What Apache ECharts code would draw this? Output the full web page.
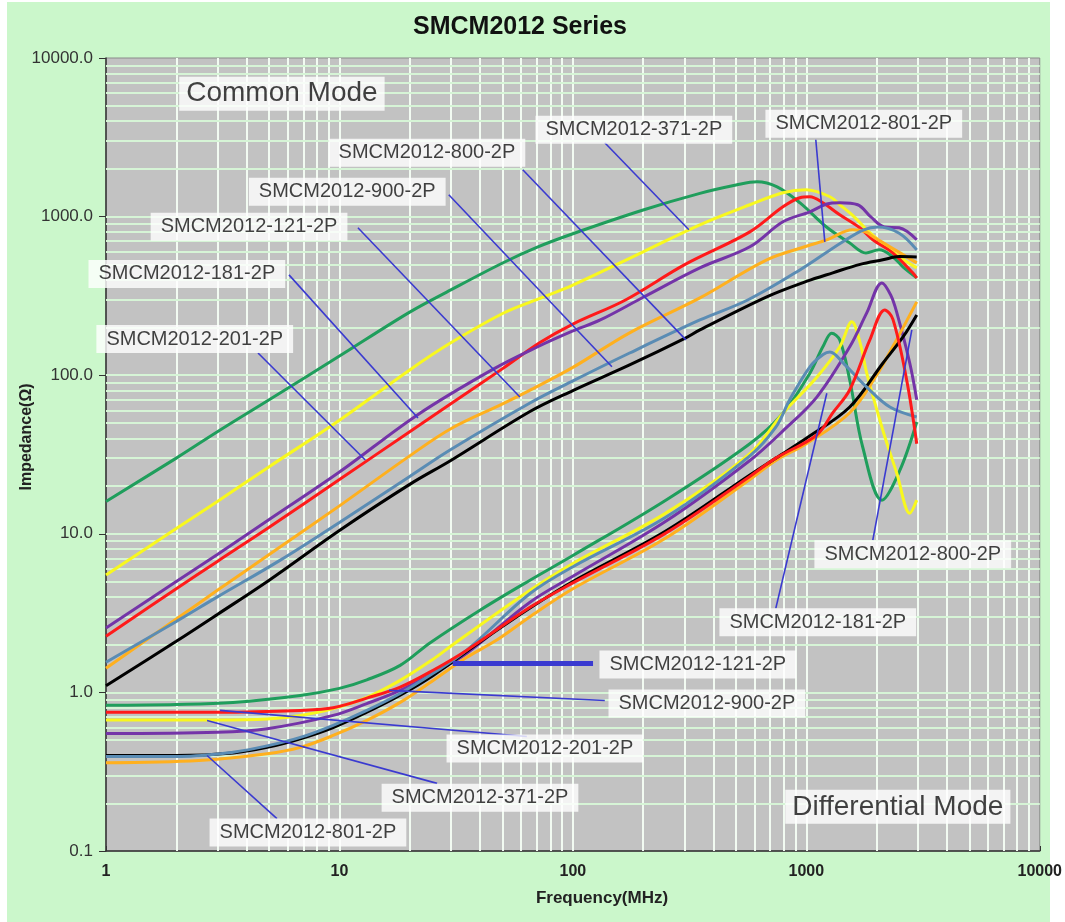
<!DOCTYPE html>
<html><head><meta charset="utf-8">
<script src="https://cdn.jsdelivr.net/npm/echarts@6/dist/echarts.min.js"></script>
<style>
html,body{margin:0;padding:0;background:#fff;}
#bg{position:absolute;left:7px;top:2px;width:1043px;height:920px;background:#cbf7cb;}
#chart{position:absolute;left:0;top:0;width:1065px;height:922px;}
</style></head><body>
<div id="bg"></div><div id="chart"></div>
<script>
// ---------- DATA (frequency MHz, impedance Ohm) ----------
// Common mode
const cm801 = [[1,16],[2,30],[3,44],[5,70],[10,132],[20,250],[30,345],[50,510],[70,640],[100,780],[200,1100],[350,1400],[500,1580],[614,1660],[750,1540],[940,1220],[1220,860],[1530,684],[1800,590],[2050,617],[2350,557],[2600,480],[2972,411]];
const cm371 = [[1,5.5],[2,10.8],[3,16],[5,26.5],[10,52],[20,108],[30,160],[50,245],[70,300],[100,370],[200,600],[350,888],[573,1188],[794,1413],[1000,1477],[1262,1334],[1391,1188],[1600,1000],[1815,826],[2213,645],[2512,557],[2972,475]];
const cm201 = [[1,2.26],[2,4.5],[3,6.7],[5,11],[10,22],[20,44],[30,66],[50,110],[72,160],[100,210],[168,298],[300,496],[573,801],[794,1153],[938,1315],[1036,1334],[1177,1222],[1391,1026],[1694,850],[1927,714],[2345,591],[2857,442],[2972,410]];
const cm181 = [[1,2.55],[2,5.0],[3,7.4],[5,12.3],[10,24.5],[21.5,56],[45,108],[70,150],[100,190],[131,223],[200,310],[350,475],[573,645],[794,927],[1036,1072],[1224,1200],[1391,1222],[1660,1188],[1890,995],[2160,860],[2500,850],[2972,714]];
const cm121 = [[1,1.42],[2,2.9],[3,4.4],[5,7.4],[10,15],[20,31],[30,46],[50,66],[65,80],[100,112],[175,185],[350,307],[677,534],[1000,650],[1224,714],[1582,826],[1800,800],[1927,748],[2300,640],[2972,511]];
const cm900 = [[1,1.55],[2,2.8],[3,4.0],[5.56,6.8],[10,11.8],[20,23],[30,34],[65.5,66.8],[100,92],[175,138],[350,223],[561,298],[938,461],[1400,680],[1762,826],[2024,860],[2500,786],[2972,617]];
const cm800 = [[1,1.1],[2,2.1],[3,3.1],[5,5.1],[10,10.5],[20,20.5],[30,29],[65.5,59],[100,80],[175,116],[300,170],[350,193],[677,312],[1000,390],[1298,442],[1700,500],[2127,534],[2500,560],[2972,557]];
// Differential mode
const dm801 = [[1,0.83],[2,0.84],[3.5,0.865],[6.8,0.957],[10,1.06],[13.1,1.2],[18.2,1.48],[24.4,2.05],[40,3.3],[65.5,5.1],[100,7.3],[250,16.3],[573,37],[794,57.6],[1036,103],[1177,151],[1285,184],[1391,167],[1535,93],[1746,35],[2108,16.3],[2512,25],[2972,50.7]];
const dm371 = [[1,0.67],[3,0.67],[4.9,0.68],[6.8,0.716],[9.4,0.79],[13.1,0.93],[18.2,1.19],[25.2,1.62],[30.6,2.0],[65.5,4.4],[100,6.5],[250,13.5],[573,32],[794,57.6],[1109,97],[1391,151],[1567,217],[1700,160],[1815,103],[2127,45],[2443,24],[2775,13.5],[2972,16.3]];
const dm201 = [[1,0.75],[3,0.75],[6.8,0.77],[9.4,0.8],[13.1,0.92],[18.2,1.08],[25.2,1.38],[35,1.84],[65.5,3.44],[100,4.9],[250,10.1],[573,23],[740,30],[1109,42],[1300,58],[1535,81],[1871,167],[2168,258],[2350,225],[2692,93],[2972,37]];
const dm181 = [[1,0.55],[3,0.56],[4.9,0.59],[9.4,0.716],[13.1,0.85],[18.2,1.03],[25.2,1.32],[35,1.76],[65.5,3.7],[100,5.4],[250,12],[573,29],[800,45],[1109,72.8],[1535,151],[1815,247],[2108,382],[2300,320],[2443,247],[2775,119],[2972,70]];
const dm121 = [[1,0.36],[2.5,0.372],[4.9,0.41],[6.8,0.45],[9.4,0.535],[13.1,0.666],[18.2,0.865],[25.2,1.19],[35,1.66],[47,2.13],[65.5,3.0],[100,4.5],[250,9.4],[573,22],[740,29],[1000,37],[1535,58],[2000,100],[2345,151],[2972,290]];
const dm900 = [[1,0.395],[2.1,0.395],[3.5,0.42],[4.9,0.46],[6.8,0.52],[9.4,0.62],[13.1,0.77],[18.2,0.985],[25.2,1.32],[35,1.84],[65.5,4.2],[100,6.2],[250,12.7],[573,31],[740,47],[849,70],[1036,113],[1180,135],[1262,140],[1450,118],[1815,84],[2280,63],[2972,54.5]];
const dm800 = [[1,0.40],[2,0.40],[3.5,0.415],[4.9,0.45],[6.8,0.51],[9.4,0.6],[13.1,0.75],[18.2,0.96],[25.2,1.28],[41,2.13],[65.5,3.4],[100,5.0],[250,10.4],[573,23.5],[740,30],[1000,40],[1535,63],[2127,119],[2600,175],[2972,240]];

const xTicks = [1, 10, 100, 1000, 10000];
const yTicks = [0.1, 1, 10, 100, 1000, 10000];

// callout texts and anchors (data units)
const partNames = ['SMCM2012-371-2P','SMCM2012-801-2P','SMCM2012-800-2P','SMCM2012-900-2P','SMCM2012-121-2P','SMCM2012-181-2P','SMCM2012-201-2P'];
const cmLabelAt = [[182.5,3533],[1763,3853],[23.7,2528],[10.8,1435],[4.1,862],[2.22,435],[2.4,169]];
const cmPointer = [[[137,2924],[314,826]],[[1098,3054],[1200,693]],[[61,1973],[305,167]],[[29.4,1374],[147,113]],[[12,850],[59.3,72.8]],[[6.08,429],[21.7,53.7]],[[4.48,138],[12.9,29.2]]];
const dmLabelAt = [[40,0.217],[7.33,0.131],[2858,7.43],[375,0.85],[343,1.5],[1120,2.77],[75.9,0.443]];
const dmPointer = [[[2.71,0.666],[26.2,0.267]],[[2.71,0.4],[5.4,0.16]],[[1927,9.12],[2831,193]],[[16.3,1.03],[137,0.89]],[[30.6,1.52],[122,1.52]],[[740,3.39],[1224,77]],[[3.08,0.77],[63.5,0.527]]];
const modeNames = ['Common Mode','Differential Mode'];
const modeAt = [[5.67,5960],[2466,0.19]];

// ---------- STYLE ----------
const FONT = "'Liberation Sans', Arial, Helvetica, sans-serif";
const COL = {green:'#1f9e5c', yellow:'#f8f81e', red:'#ff1a1a', purple:'#7434a8', orange:'#ffb01e', steel:'#5a8cb4', black:'#000000'};

const curveDefs = [
  [cm801,'green'],[cm371,'yellow'],[cm201,'red'],[cm181,'purple'],[cm121,'orange'],[cm900,'steel'],[cm800,'black'],
  [dm801,'green'],[dm371,'yellow'],[dm181,'purple'],[dm121,'orange'],[dm800,'black'],[dm900,'steel'],[dm201,'red']
];

const gridLineData = [];
[1,10,100,1000].forEach(d => { for (let k = 1; k <= 9; k++) { if (d*k > 1) gridLineData.push({xAxis: d*k, lineStyle:{color:'#f2fbf2', width:2, type:'solid'}}); } });
[0.1,1,10,100,1000].forEach(d => { for (let k = 1; k <= 9; k++) { if (d*k > 0.1) gridLineData.push({yAxis: d*k, lineStyle:{color:'#d6f4d6', width:2, type:'solid'}}); } });

const series = [];
series.push({
  type:'line', data:[[1,0.1]], z:1, silent:true, symbol:'none', lineStyle:{opacity:0},
  markLine:{z:1, silent:true, symbol:['none','none'], label:{show:false}, animation:false,
    lineStyle:{type:'solid'}, emphasis:{disabled:true}, data: gridLineData}
});
curveDefs.forEach(([d,c]) => series.push({
  type:'line', data:d, symbol:'none', smooth:0.35, z:2, silent:true,
  lineStyle:{color:COL[c], width:3, type:'solid'}, itemStyle:{color:COL[c]}
}));
const pointers = cmPointer.concat(dmPointer);
series.push({
  type:'lines', coordinateSystem:'cartesian2d', z:3, silent:true,
  lineStyle:{color:'#3a3ad0', width:1.6, opacity:1, type:'solid', curveness:0},
  data: pointers.map((p,i) => ({coords:p, lineStyle: (i === 7+4) ? {width:5, color:'#3a3ad0', type:'solid'} : undefined}))
});
const labelData = [];
partNames.forEach((n,i) => labelData.push({name:n, value:cmLabelAt[i]}));
partNames.forEach((n,i) => labelData.push({name:n, value:dmLabelAt[i]}));
series.push({
  type:'scatter', z:5, silent:true, symbolSize:1, itemStyle:{color:'transparent'},
  label:{show:true, position:'inside', formatter:'{b}', color:'#111', fontFamily:FONT, fontSize:20, lineHeight:22, backgroundColor:'#ffffff', padding:[3,10,3,10]},
  data: labelData
});
series.push({
  type:'scatter', z:5, silent:true, symbolSize:1, itemStyle:{color:'transparent'},
  label:{show:true, position:'inside', formatter:'{b}', color:'#111', fontFamily:FONT, fontSize:28, lineHeight:30, backgroundColor:'#ffffff', padding:[2,7,2,7]},
  data: modeNames.map((n,i) => ({name:n, value:modeAt[i]}))
});

const chart = echarts.init(document.getElementById('chart'), null, {renderer:'canvas'});
chart.setOption({
  animation:false,
  backgroundColor:'transparent',
  grid:{left:106, top:58, width:934, height:793, show:true, backgroundColor:'#c2c2c2', borderColor:'#8a8a8a', borderWidth:1},
  xAxis:{type:'log', logBase:10, min:xTicks[0], max:xTicks[xTicks.length-1],
    axisLine:{show:true, lineStyle:{color:'#333', width:1.5}},
    axisTick:{show:true, inside:true, length:5, lineStyle:{color:'#333'}},
    splitLine:{show:false}, minorSplitLine:{show:false},
    axisLabel:{color:'#222', fontFamily:FONT, fontSize:16, fontWeight:'bold', margin:13, formatter: v => String(Math.round(v))}
  },
  yAxis:{type:'log', logBase:10, min:yTicks[0], max:yTicks[yTicks.length-1],
    axisLine:{show:true, lineStyle:{color:'#333', width:1.5}},
    axisTick:{show:true, inside:false, length:7, lineStyle:{color:'#333'}},
    splitLine:{show:false},
    axisLabel:{color:'#333', fontFamily:FONT, fontSize:17, margin:13, formatter: v => v >= 1 ? Math.round(v).toFixed(1) : String(Math.round(v*10)/10)}
  },
  graphic:[
    {type:'text', x:520, y:27, style:{text:'SMCM2012 Series', font:'bold 25px '+FONT, fill:'#111', textAlign:'center', textVerticalAlign:'middle'}},
    {type:'text', x:27, y:437, rotation:Math.PI/2, style:{text:'Impedance(Ω)', font:'bold 16px '+FONT, fill:'#222', textAlign:'center', textVerticalAlign:'middle'}},
    {type:'text', x:602, y:898, style:{text:'Frequency(MHz)', font:'bold 17px '+FONT, fill:'#222', textAlign:'center', textVerticalAlign:'middle'}}
  ],
  series: series
});
</script></body></html>
